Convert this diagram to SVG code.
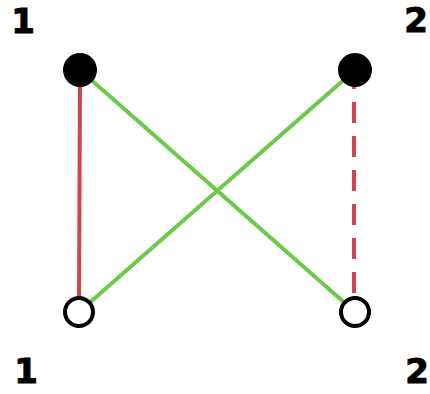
<svg xmlns="http://www.w3.org/2000/svg" width="430" height="394" viewBox="0 0 430 394">
<style>
.lbl{font-family:"DejaVu Sans","Liberation Sans",sans-serif;font-weight:bold;font-size:34px;fill:#000;stroke:#000;stroke-width:1;text-anchor:middle}
.g{stroke:#6cc94a;stroke-width:4;fill:none}
.r{stroke:#d2424f;stroke-width:4;fill:none}
.full{fill:#000}
.open{fill:#fff;stroke:#000;stroke-width:4}
</style>
<rect width="430" height="394" fill="#fff"/>
<g id="connectors">
<line class="g" x1="80" y1="70" x2="355" y2="312"/>
<line class="g" x1="355" y1="70" x2="79" y2="312"/>
<line class="r" x1="80" y1="70" x2="79" y2="312"/>
<line class="r" x1="354" y1="87" x2="354" y2="296" stroke-dasharray="21 13" stroke-dashoffset="19"/>
</g>
<g id="top1"><circle class="full" cx="80" cy="70" r="17"/><text class="lbl" x="23" y="33">1</text></g>
<g id="top2"><circle class="full" cx="355" cy="70" r="17"/><text class="lbl" x="416" y="32">2</text></g>
<g id="bottom1"><circle class="open" cx="79" cy="312" r="14"/><text class="lbl" x="26" y="383">1</text></g>
<g id="bottom2"><circle class="open" cx="355" cy="312" r="14"/><text class="lbl" x="417" y="383">2</text></g>
</svg>
